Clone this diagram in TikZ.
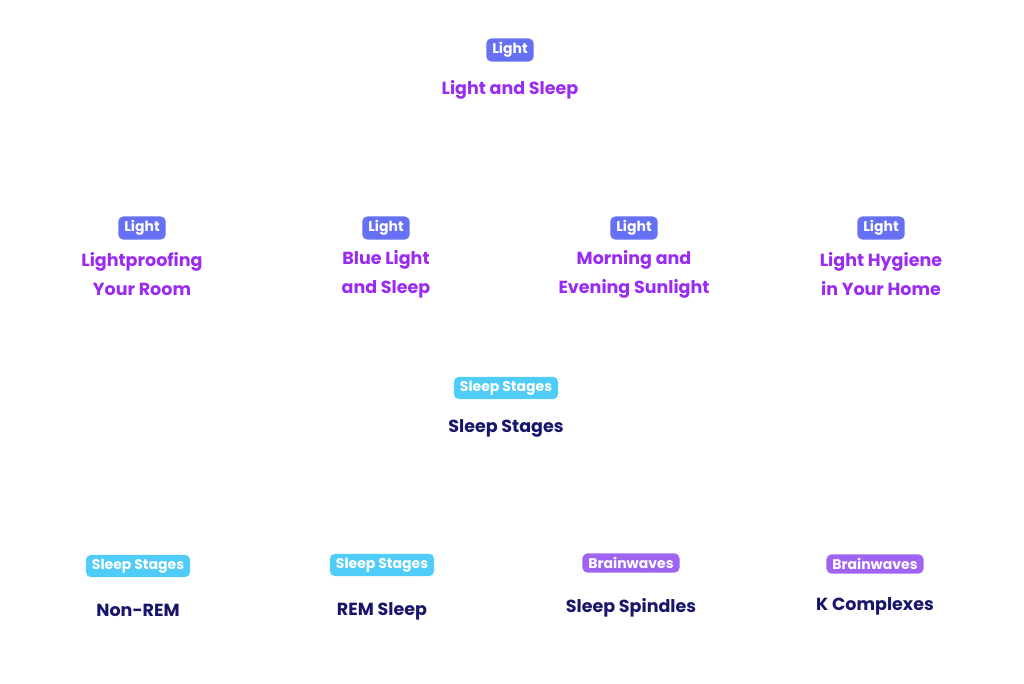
\documentclass[tikz,border=0pt]{standalone}
\usepackage{fontspec}
\setmainfont{Poppins}[UprightFont=*-Bold]
\definecolor{lightbadge}{HTML}{6670F2}
\definecolor{lighttext}{HTML}{9A2BF2}
\definecolor{ssbadge}{HTML}{4FCDF8}
\definecolor{navy}{HTML}{17166B}
\definecolor{bwbadge}{HTML}{A064F2}
\begin{document}
\begin{tikzpicture}[x=1pt,y=1pt,
  badge/.style={fill=#1,text=white,rounded corners=5pt,inner xsep=6pt,inner ysep=4pt,font=\fontsize{14}{16}\selectfont},
  ttl/.style={text=#1,align=center,font=\fontsize{17.5}{29}\selectfont},
]
\useasboundingbox (0,0) rectangle (1024,683);
\node[badge=lightbadge] (b0) at (510,633) {Light};
\node[ttl=lighttext] (t0) at (510,593) {Light and Sleep};
\foreach \x/\n/\t in {142/1/{Lightproofing\\Your Room},386/2/{Blue Light\\and Sleep},634/3/{Morning and\\Evening Sunlight},881/4/{Light Hygiene\\in Your Home}}{
  \node[badge=lightbadge] (b\n) at (\x,455) {Light};
  \node[ttl=lighttext] (t\n) at (\x,408.5) {\t};
}
\node[badge=ssbadge] (b5) at (506,295) {Sleep Stages};
\node[ttl=navy] (t5) at (506,255) {Sleep Stages};
\node[badge=ssbadge] (b6) at (138,117) {Sleep Stages};
\node[ttl=navy] (t6) at (138,73) {Non-REM};
\node[badge=ssbadge] (b7) at (382,118) {Sleep Stages};
\node[ttl=navy] (t7) at (382,72) {REM Sleep};
\node[badge=bwbadge] (b8) at (631,120) {Brainwaves};
\node[ttl=navy] (t8) at (631,75) {Sleep Spindles};
\node[badge=bwbadge] (b9) at (875,119) {Brainwaves};
\node[ttl=navy] (t9) at (875,77) {K Complexes};
\end{tikzpicture}
\end{document}
